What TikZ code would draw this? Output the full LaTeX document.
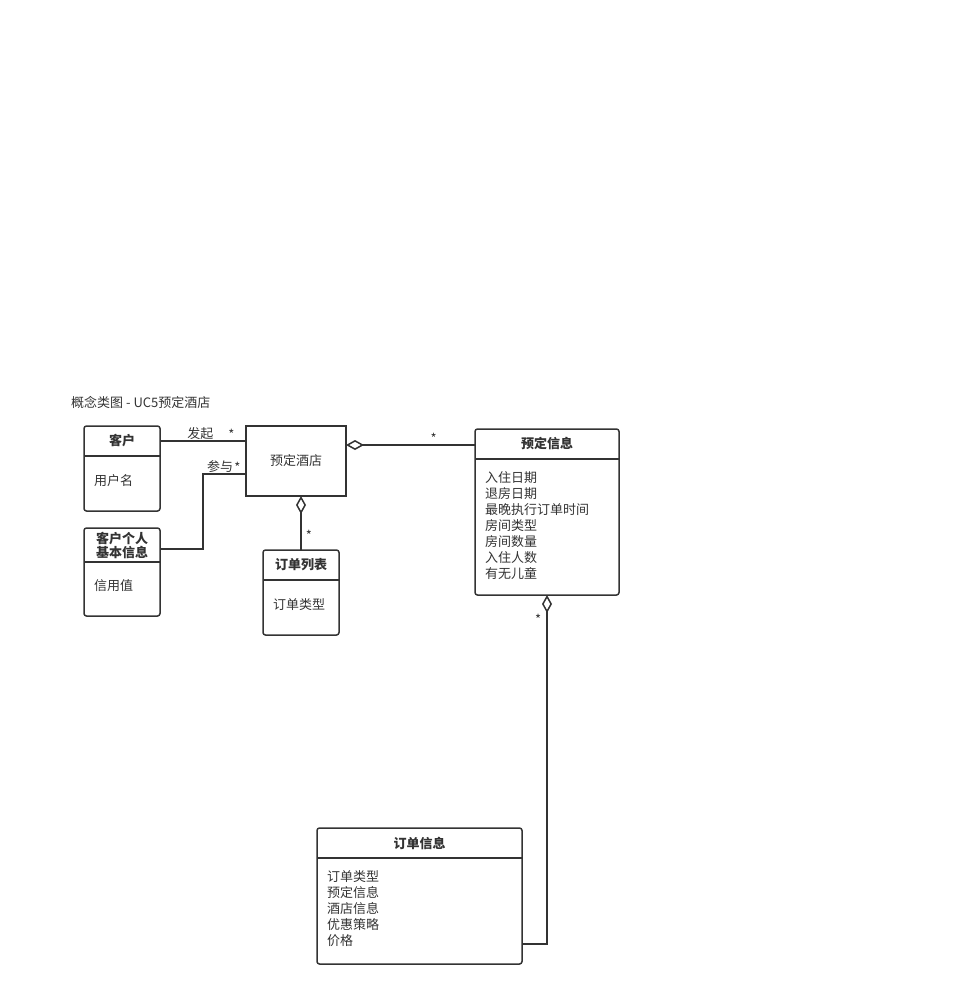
\documentclass[tikz,border=0pt]{standalone}
\usepackage{fontspec}
\setmainfont{Noto Sans CJK SC}
\usepackage{xcolor}
\usetikzlibrary{arrows.meta, positioning}
\definecolor{linec}{RGB}{51,51,51}
\tikzset{
  classbox/.style={draw=linec, line width=1.5pt, rounded corners=2.5pt, anchor=north west, inner sep=0pt, outer sep=0pt},
  plainbox/.style={draw=linec, line width=1.5pt, inner sep=0pt, outer sep=0pt, text=linec, font=\fontsize{13}{16}\selectfont},
  classhead/.style={inner sep=0pt, outer sep=0pt, text=linec, align=center, font=\bfseries\fontsize{13}{16}\selectfont},
  classattr/.style={inner sep=0pt, outer sep=0pt, text=linec, align=left, anchor=north west, font=\fontsize{13}{16}\selectfont},
  divider/.style={draw=linec, line width=1.5pt},
  lbl/.style={inner sep=1pt, text=linec, font=\fontsize{13}{16}\selectfont},
}
\tikzstyle{assoc} = [draw=linec, line width=1.5pt]
\tikzstyle{aggr} = [draw=linec, line width=1.5pt, {Diamond[open, length=18pt, width=10pt, line width=1.5pt]}-]

\begin{document}
\begin{tikzpicture}[x=1pt, y=-1pt]
  \useasboundingbox (0,0) rectangle (962,996);
  \node[lbl, anchor=west, inner sep=0pt] (title) at (71,402) {概念类图 - UC5预定酒店};

  \node[classbox, minimum width=76pt, minimum height=85pt] (kehu) at (84,426) {};
  \node[classhead, minimum width=76pt, minimum height=30pt, below=0pt of kehu.north] (kehuh) {客户};
  \draw[divider] (kehuh.south west) -- (kehuh.south east);
  \node[classattr, below right=19pt and 10pt of kehuh.south west] (kehua) {用户名};

  \node[classbox, minimum width=76pt, minimum height=88pt] (kehugeren) at (84,528) {};
  \node[classhead, minimum width=76pt, minimum height=34pt, below=0pt of kehugeren.north] (kehugerenh) {客户个人\\[-2pt]基本信息};
  \draw[divider] (kehugerenh.south west) -- (kehugerenh.south east);
  \node[classattr, below right=18pt and 10pt of kehugerenh.south west] (kehugerena) {信用值};

  \node[plainbox, minimum width=100pt, minimum height=70pt] (yudingjiudian) at (296,461) {预定酒店};

  \node[classbox, minimum width=76pt, minimum height=85pt] (dingdanliebiao) at (263,550) {};
  \node[classhead, minimum width=76pt, minimum height=30pt, below=0pt of dingdanliebiao.north] (dingdanliebiaoh) {订单列表};
  \draw[divider] (dingdanliebiaoh.south west) -- (dingdanliebiaoh.south east);
  \node[classattr, below right=19pt and 10pt of dingdanliebiaoh.south west] (dingdanliebiaoa) {订单类型};

  \node[classbox, minimum width=144pt, minimum height=166pt] (yudingxinxi) at (475,429) {};
  \node[classhead, minimum width=144pt, minimum height=30pt, below=0pt of yudingxinxi.north] (yudingxinxih) {预定信息};
  \draw[divider] (yudingxinxih.south west) -- (yudingxinxih.south east);
  \node[classattr, below right=13pt and 10pt of yudingxinxih.south west] (yudingxinxia)
    {入住日期\\退房日期\\最晚执行订单时间\\房间类型\\房间数量\\入住人数\\有无儿童};

  \node[classbox, minimum width=205pt, minimum height=136pt] (dingdanxinxi) at (317,828) {};
  \node[classhead, minimum width=205pt, minimum height=30pt, below=0pt of dingdanxinxi.north] (dingdanxinxih) {订单信息};
  \draw[divider] (dingdanxinxih.south west) -- (dingdanxinxih.south east);
  \node[classattr, below right=13pt and 10pt of dingdanxinxih.south west] (dingdanxinxia)
    {订单类型\\预定信息\\酒店信息\\优惠策略\\价格};
  \coordinate (dingdanxinxiin) at ([yshift=20pt]dingdanxinxi.south east);

  \draw[assoc] (kehuh.east) -- (kehuh.east -| yudingjiudian.west)
    node[lbl, pos=0.47, above] {发起}
    node[lbl, pos=0.83, above] {*};
  \draw[assoc] ([yshift=-4pt]kehugerenh.east) -- ++(43,0) |- ([yshift=-13pt]yudingjiudian.west)
    node[lbl, pos=0.7, above] {参与}
    node[lbl, pos=0.9, above] {*};

  \draw[aggr] (yudingjiudian.south -| dingdanliebiao.north) -- (dingdanliebiao.north)
    node[lbl, pos=0.72, right=3pt] {*};
  \draw[aggr] ([yshift=-1pt]yudingjiudian.east |- yudingxinxih.west) -- ([yshift=-1pt]yudingxinxih.west)
    node[lbl, pos=0.68, above] {*};
  \draw[aggr] (yudingxinxi.south) |- (dingdanxinxiin)
    node[lbl, pos=0.035, left=4pt] {*};
\end{tikzpicture}
\end{document}
